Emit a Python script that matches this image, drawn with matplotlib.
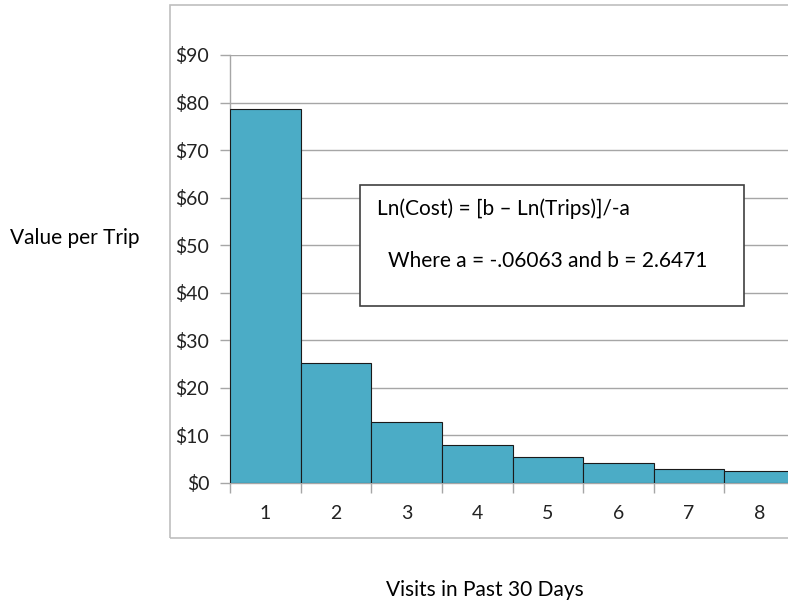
import matplotlib
matplotlib.use("Agg")
import matplotlib.pyplot as plt
from matplotlib.patches import Rectangle

# values
visits = [1, 2, 3, 4, 5, 6, 7, 8]
value_per_trip = [78.7, 25.2, 12.8, 8.0, 5.5, 4.2, 3.0, 2.6]
y_ticks = [0, 10, 20, 30, 40, 50, 60, 70, 80, 90]
y_labels = ["$" + str(v) for v in y_ticks]

BAR = "#4BACC6"
GRID = "#A6A6A6"

plt.rcParams["font.family"] = ["Lato", "DejaVu Sans"]

W, H = 788, 603
fig = plt.figure(figsize=(W / 100, H / 100), dpi=100)

# outer chart frame (right side runs off the picture)
fig.patches.append(Rectangle((170 / W, 1 - 538 / H), 700 / W, (538 - 5) / H,
                             transform=fig.transFigure, fill=False,
                             edgecolor="#BFBFBF", linewidth=1.2))

ax = fig.add_axes([230 / W, 1 - 483 / H, (795 - 230) / W, (483 - 55) / H])
ax.bar(visits, value_per_trip, width=1.0, color=BAR, edgecolor="#1a1a1a",
       linewidth=0.8, zorder=3)

ax.set_xlim(0.5, 8.5)
ax.set_ylim(0, 90)
ax.set_yticks(y_ticks)
ax.set_yticklabels(y_labels, fontsize=14, color="#222222")
ax.set_xticks(visits)
ax.set_xticklabels([str(v) for v in visits], fontsize=14, color="#222222")
ax.set_xticks([v + 0.5 for v in [0] + visits], minor=True)
ax.tick_params(axis="x", which="major", length=0, pad=16)
ax.tick_params(axis="x", which="minor", length=7, color=GRID, width=1)
ax.tick_params(axis="y", length=7, color=GRID, width=1, pad=8)
ax.yaxis.grid(True, color=GRID, linewidth=1, zorder=0)
ax.set_axisbelow(True)
for s in ["top", "right"]:
    ax.spines[s].set_visible(False)
for s in ["left", "bottom"]:
    ax.spines[s].set_color(GRID)
    ax.spines[s].set_linewidth(1)

# equation box
fig.patches.append(Rectangle((360 / W, 1 - 306 / H), (744 - 360) / W, (306 - 185) / H,
                             transform=fig.transFigure, facecolor="white",
                             edgecolor="#404040", linewidth=1.2, zorder=5))
fig.text(377 / W, 1 - 209 / H, "Ln(Cost) = [b \u2013 Ln(Trips)]/-a",
         fontsize=15, va="center", ha="left", zorder=6)
fig.text(388 / W, 1 - 261 / H, "Where a = -.06063 and b = 2.6471",
         fontsize=15, va="center", ha="left", zorder=6)

fig.text(10 / W, 1 - 238 / H, "Value per Trip", fontsize=15, va="center", ha="left")
fig.text(485 / W, 1 - 590 / H, "Visits in Past 30 Days", fontsize=15,
         va="center", ha="center")

fig.savefig("out.png", dpi=100)
